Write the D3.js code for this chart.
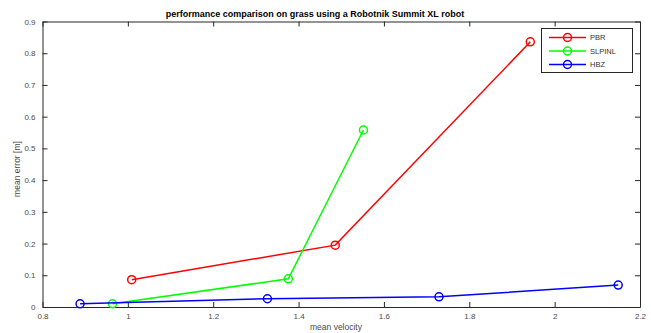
<!DOCTYPE html>
<html>
<head>
<meta charset="utf-8">
<script src="https://cdn.jsdelivr.net/npm/d3@7"></script>
<style>
  html, body { margin: 0; padding: 0; background: #fff; }
  svg { display: block; font-family: "Liberation Sans", Arial, Helvetica, sans-serif; }
</style>
</head>
<body>
<svg id="chart" width="651" height="333"></svg>
<script>
// Series: mean velocity vs mean error
const seriesNames = ["PBR", "SLPINL", "HBZ"];
const seriesColors = ["#ff0000", "#00ff00", "#0000ff"];
const pbrVelocity = [1.009, 1.486, 1.943];
const pbrError = [0.086, 0.195, 0.836];
const slpinlVelocity = [0.964, 1.376, 1.552];
const slpinlError = [0.010, 0.089, 0.558];
const hbzVelocity = [0.888, 1.327, 1.729, 2.149];
const hbzError = [0.010, 0.026, 0.032, 0.069];
const xTicks = [0.8, 1, 1.2, 1.4, 1.6, 1.8, 2, 2.2];
const yTicks = [0, 0.1, 0.2, 0.3, 0.4, 0.5, 0.6, 0.7, 0.8, 0.9];

const series = [
  { name: seriesNames[0], color: seriesColors[0], xs: pbrVelocity, ys: pbrError },
  { name: seriesNames[1], color: seriesColors[1], xs: slpinlVelocity, ys: slpinlError },
  { name: seriesNames[2], color: seriesColors[2], xs: hbzVelocity, ys: hbzError }
];

const svg = d3.select("#chart");
const plotLeft = 42.5, plotRight = 640, plotTop = 21.5, plotBottom = 307;
const axisColor = "#262626";

const x = d3.scaleLinear().domain([0.8, 2.2]).range([plotLeft, plotRight]);
const y = d3.scaleLinear().domain([0, 0.9]).range([plotBottom, plotTop]);

const tickLen = 5;
const fmt = d => String(+d.toFixed(1));

// Bottom axis (ticks pointing inward)
const gx = svg.append("g").attr("transform", `translate(0,${plotBottom})`)
  .call(d3.axisBottom(x).tickValues(xTicks).tickFormat(fmt).tickSizeInner(-tickLen).tickSizeOuter(0).tickPadding(6));
// Top axis, ticks only
const gxt = svg.append("g").attr("transform", `translate(0,${plotTop})`)
  .call(d3.axisTop(x).tickValues(xTicks).tickFormat("").tickSizeInner(-tickLen).tickSizeOuter(0));
// Left axis
const gy = svg.append("g").attr("transform", `translate(${plotLeft},0)`)
  .call(d3.axisLeft(y).tickValues(yTicks).tickFormat(fmt).tickSizeInner(-tickLen).tickSizeOuter(0).tickPadding(7));
// Right axis, ticks only
const gyr = svg.append("g").attr("transform", `translate(${plotRight},0)`)
  .call(d3.axisRight(y).tickValues(yTicks).tickFormat("").tickSizeInner(-tickLen).tickSizeOuter(0));

[gx, gxt, gy, gyr].forEach(g => {
  g.selectAll(".domain").attr("stroke", axisColor).attr("stroke-width", 1);
  g.selectAll(".tick line").attr("stroke", axisColor).attr("stroke-width", 1);
  g.selectAll(".tick text").attr("fill", "#4a4a4a").style("font-size", "8px");
});

// Data lines and circle markers
const line = d3.line().x(d => x(d[0])).y(d => y(d[1]));
series.forEach(s => {
  const pts = s.xs.map((v, i) => [v, s.ys[i]]);
  svg.append("path").datum(pts)
    .attr("d", line).attr("fill", "none")
    .attr("stroke", s.color).attr("stroke-width", 1.5);
  svg.append("g").selectAll("circle").data(pts).join("circle")
    .attr("cx", d => x(d[0])).attr("cy", d => y(d[1])).attr("r", 4)
    .attr("fill", "none").attr("stroke", s.color).attr("stroke-width", 1.5);
});

// Title
svg.append("text")
  .attr("x", 315).attr("y", 17)
  .attr("text-anchor", "middle")
  .style("font-size", "9px").style("font-weight", "bold").attr("fill", "#000")
  .text("performance comparison on grass using a Robotnik Summit XL robot");

// Axis labels
svg.append("text")
  .attr("x", 336).attr("y", 330)
  .attr("text-anchor", "middle")
  .style("font-size", "8.5px").attr("fill", "#4a4a4a")
  .text("mean velocity");
svg.append("text")
  .attr("transform", "translate(20,169) rotate(-90)")
  .attr("text-anchor", "middle")
  .style("font-size", "8.5px").attr("fill", "#4a4a4a")
  .text("mean error [m]");

// Legend
const lg = svg.append("g");
lg.append("rect")
  .attr("x", 541.5).attr("y", 28.5).attr("width", 91).attr("height", 44)
  .attr("fill", "#fff").attr("stroke", axisColor).attr("stroke-width", 1);
series.forEach((s, i) => {
  const ly = 37.5 + i * 13.5;
  lg.append("line").attr("x1", 549).attr("x2", 586).attr("y1", ly).attr("y2", ly)
    .attr("stroke", s.color).attr("stroke-width", 1.5);
  lg.append("circle").attr("cx", 567.5).attr("cy", ly).attr("r", 4)
    .attr("fill", "none").attr("stroke", s.color).attr("stroke-width", 1.5);
  lg.append("text").attr("x", 590).attr("y", ly).attr("dy", "0.35em")
    .style("font-size", "7.5px").attr("fill", "#333").text(s.name);
});
</script>
</body>
</html>
